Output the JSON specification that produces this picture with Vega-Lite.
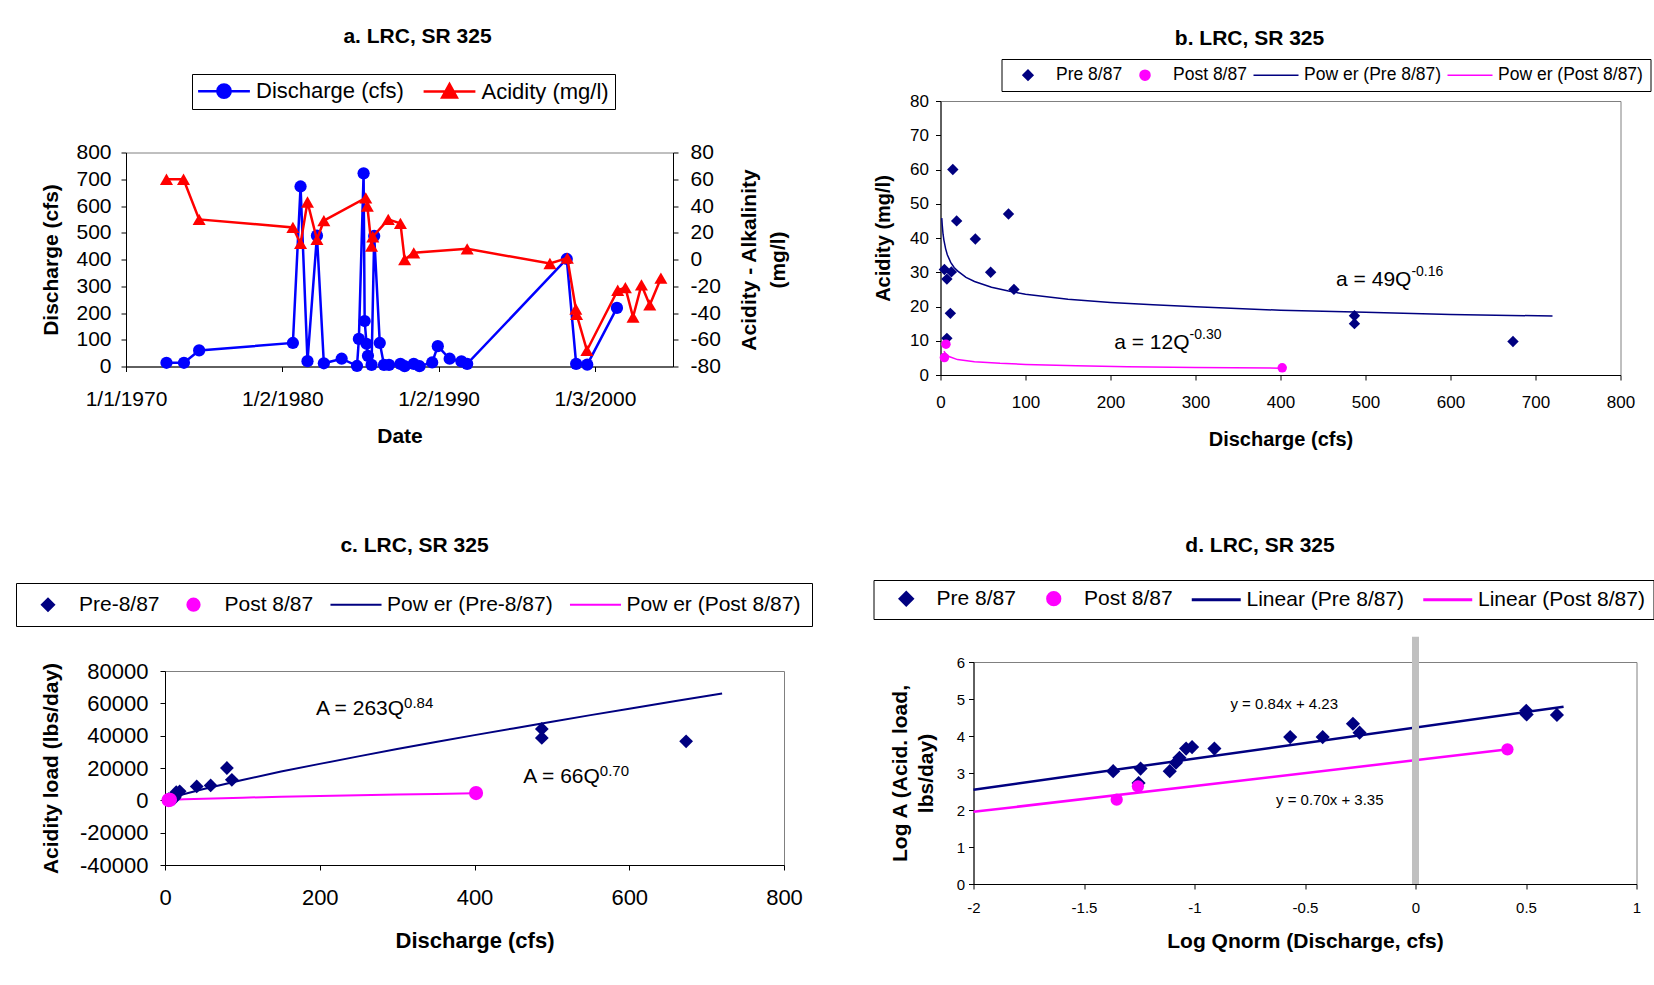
{
  "$schema": "https://vega.github.io/schema/vega-lite/v6.json",
  "background": "white",
  "padding": {"left": 15, "top": 25, "right": 5, "bottom": 5},
  "config": {
    "font": "Liberation Sans",
    "view": {"stroke": "#808080", "strokeWidth": 1},
    "axis": {"domainColor": "#000000", "domainWidth": 1, "tickColor": "#000000", "tickWidth": 1, "tickSize": 5, "labelColor": "#000000", "titleColor": "#000000", "titleFontWeight": "bold", "grid": false, "labelFlush": false, "labelOverlap": false, "labelPadding": 3},
    "title": {"color": "#000000", "fontWeight": "bold", "anchor": "middle", "frame": "group", "fontSize": 21},
    "legend": {"labelColor": "#000000", "strokeColor": "#000000", "fillColor": "#FFFFFF", "labelLimit": 400, "orient": "none", "direction": "horizontal", "symbolOpacity": 1, "title": null}
  },
  "datasets": {
    "panelA": [
      {"date": "1972-08-04", "series": "Discharge (cfs)", "value": 14},
      {"date": "1973-09-16", "series": "Discharge (cfs)", "value": 14},
      {"date": "1974-09-06", "series": "Discharge (cfs)", "value": 60},
      {"date": "1980-09-05", "series": "Discharge (cfs)", "value": 88},
      {"date": "1981-03-03", "series": "Discharge (cfs)", "value": 673},
      {"date": "1981-08-12", "series": "Discharge (cfs)", "value": 20},
      {"date": "1982-03-21", "series": "Discharge (cfs)", "value": 489},
      {"date": "1982-08-29", "series": "Discharge (cfs)", "value": 12},
      {"date": "1983-10-19", "series": "Discharge (cfs)", "value": 29},
      {"date": "1984-10-12", "series": "Discharge (cfs)", "value": 2},
      {"date": "1984-11-25", "series": "Discharge (cfs)", "value": 103},
      {"date": "1985-03-15", "series": "Discharge (cfs)", "value": 722},
      {"date": "1985-04-09", "series": "Discharge (cfs)", "value": 170},
      {"date": "1985-05-23", "series": "Discharge (cfs)", "value": 85},
      {"date": "1985-06-25", "series": "Discharge (cfs)", "value": 40},
      {"date": "1985-09-17", "series": "Discharge (cfs)", "value": 6},
      {"date": "1985-11-18", "series": "Discharge (cfs)", "value": 488},
      {"date": "1986-03-28", "series": "Discharge (cfs)", "value": 88},
      {"date": "1986-07-05", "series": "Discharge (cfs)", "value": 6},
      {"date": "1986-10-30", "series": "Discharge (cfs)", "value": 6},
      {"date": "1987-07-24", "series": "Discharge (cfs)", "value": 10},
      {"date": "1987-10-30", "series": "Discharge (cfs)", "value": 1},
      {"date": "1988-05-30", "series": "Discharge (cfs)", "value": 10},
      {"date": "1988-10-12", "series": "Discharge (cfs)", "value": 1},
      {"date": "1989-08-04", "series": "Discharge (cfs)", "value": 15},
      {"date": "1989-12-13", "series": "Discharge (cfs)", "value": 76},
      {"date": "1990-09-16", "series": "Discharge (cfs)", "value": 29},
      {"date": "1991-06-18", "series": "Discharge (cfs)", "value": 19},
      {"date": "1991-10-30", "series": "Discharge (cfs)", "value": 10},
      {"date": "1998-03-14", "series": "Discharge (cfs)", "value": 402},
      {"date": "1998-10-20", "series": "Discharge (cfs)", "value": 10},
      {"date": "1999-07-06", "series": "Discharge (cfs)", "value": 7},
      {"date": "2001-05-30", "series": "Discharge (cfs)", "value": 219},
      {"date": "1972-08-04", "series": "Acidity (mg/l)", "value": 60},
      {"date": "1973-09-06", "series": "Acidity (mg/l)", "value": 60},
      {"date": "1974-09-06", "series": "Acidity (mg/l)", "value": 30},
      {"date": "1980-09-05", "series": "Acidity (mg/l)", "value": 24},
      {"date": "1981-03-03", "series": "Acidity (mg/l)", "value": 12},
      {"date": "1981-08-12", "series": "Acidity (mg/l)", "value": 43},
      {"date": "1982-03-21", "series": "Acidity (mg/l)", "value": 15},
      {"date": "1982-08-29", "series": "Acidity (mg/l)", "value": 29},
      {"date": "1985-05-05", "series": "Acidity (mg/l)", "value": 46},
      {"date": "1985-06-10", "series": "Acidity (mg/l)", "value": 40},
      {"date": "1985-09-17", "series": "Acidity (mg/l)", "value": 10},
      {"date": "1985-10-15", "series": "Acidity (mg/l)", "value": 17},
      {"date": "1986-10-12", "series": "Acidity (mg/l)", "value": 30},
      {"date": "1987-07-24", "series": "Acidity (mg/l)", "value": 27},
      {"date": "1987-10-30", "series": "Acidity (mg/l)", "value": 0},
      {"date": "1988-05-30", "series": "Acidity (mg/l)", "value": 5},
      {"date": "1991-10-30", "series": "Acidity (mg/l)", "value": 8},
      {"date": "1997-02-14", "series": "Acidity (mg/l)", "value": -3},
      {"date": "1998-03-28", "series": "Acidity (mg/l)", "value": 1},
      {"date": "1998-10-12", "series": "Acidity (mg/l)", "value": -37},
      {"date": "1998-10-30", "series": "Acidity (mg/l)", "value": -41},
      {"date": "1999-06-28", "series": "Acidity (mg/l)", "value": -68},
      {"date": "2001-06-17", "series": "Acidity (mg/l)", "value": -23},
      {"date": "2001-12-13", "series": "Acidity (mg/l)", "value": -21},
      {"date": "2002-06-10", "series": "Acidity (mg/l)", "value": -43},
      {"date": "2002-12-24", "series": "Acidity (mg/l)", "value": -19},
      {"date": "2003-07-06", "series": "Acidity (mg/l)", "value": -34},
      {"date": "2004-03-22", "series": "Acidity (mg/l)", "value": -14}
    ],
    "bPts": [
      {"q": 4.6, "val": 30.8, "group": "Pre 8/87"},
      {"q": 7.5, "val": 28, "group": "Pre 8/87"},
      {"q": 12.8, "val": 30.1, "group": "Pre 8/87"},
      {"q": 14.5, "val": 60, "group": "Pre 8/87"},
      {"q": 11.6, "val": 18, "group": "Pre 8/87"},
      {"q": 7.5, "val": 10.7, "group": "Pre 8/87"},
      {"q": 19, "val": 45, "group": "Pre 8/87"},
      {"q": 41, "val": 39.7, "group": "Pre 8/87"},
      {"q": 59, "val": 30, "group": "Pre 8/87"},
      {"q": 80, "val": 47, "group": "Pre 8/87"},
      {"q": 86.4, "val": 25, "group": "Pre 8/87"},
      {"q": 487, "val": 17.3, "group": "Pre 8/87"},
      {"q": 487, "val": 15, "group": "Pre 8/87"},
      {"q": 673.5, "val": 9.8, "group": "Pre 8/87"},
      {"q": 6.4, "val": 9, "group": "Post 8/87"},
      {"q": 4.6, "val": 5.1, "group": "Post 8/87"},
      {"q": 402, "val": 2.1, "group": "Post 8/87"}
    ],
    "bFit": [
      {"q": 1.5, "val": 45.8, "group": "Pow er (Pre 8/87)"},
      {"q": 2, "val": 43.9, "group": "Pow er (Pre 8/87)"},
      {"q": 3, "val": 41.1, "group": "Pow er (Pre 8/87)"},
      {"q": 4, "val": 39.4, "group": "Pow er (Pre 8/87)"},
      {"q": 6, "val": 36.9, "group": "Pow er (Pre 8/87)"},
      {"q": 8, "val": 35.1, "group": "Pow er (Pre 8/87)"},
      {"q": 12, "val": 32.9, "group": "Pow er (Pre 8/87)"},
      {"q": 16, "val": 31.4, "group": "Pow er (Pre 8/87)"},
      {"q": 20, "val": 30.4, "group": "Pow er (Pre 8/87)"},
      {"q": 30, "val": 28.5, "group": "Pow er (Pre 8/87)"},
      {"q": 40, "val": 27.3, "group": "Pow er (Pre 8/87)"},
      {"q": 60, "val": 25.6, "group": "Pow er (Pre 8/87)"},
      {"q": 80, "val": 24.5, "group": "Pow er (Pre 8/87)"},
      {"q": 100, "val": 23.6, "group": "Pow er (Pre 8/87)"},
      {"q": 150, "val": 22.1, "group": "Pow er (Pre 8/87)"},
      {"q": 200, "val": 21.2, "group": "Pow er (Pre 8/87)"},
      {"q": 250, "val": 20.5, "group": "Pow er (Pre 8/87)"},
      {"q": 300, "val": 19.9, "group": "Pow er (Pre 8/87)"},
      {"q": 400, "val": 18.9, "group": "Pow er (Pre 8/87)"},
      {"q": 500, "val": 18.3, "group": "Pow er (Pre 8/87)"},
      {"q": 600, "val": 17.7, "group": "Pow er (Pre 8/87)"},
      {"q": 720, "val": 17.2, "group": "Pow er (Pre 8/87)"},
      {"q": 4, "val": 7.0, "group": "Pow er (Post 8/87)"},
      {"q": 6, "val": 6.2, "group": "Pow er (Post 8/87)"},
      {"q": 10, "val": 5.4, "group": "Pow er (Post 8/87)"},
      {"q": 20, "val": 4.5, "group": "Pow er (Post 8/87)"},
      {"q": 40, "val": 3.9, "group": "Pow er (Post 8/87)"},
      {"q": 70, "val": 3.4, "group": "Pow er (Post 8/87)"},
      {"q": 100, "val": 3.1, "group": "Pow er (Post 8/87)"},
      {"q": 160, "val": 2.7, "group": "Pow er (Post 8/87)"},
      {"q": 220, "val": 2.4, "group": "Pow er (Post 8/87)"},
      {"q": 300, "val": 2.2, "group": "Pow er (Post 8/87)"},
      {"q": 400, "val": 2.0, "group": "Pow er (Post 8/87)"}
    ],
    "bNotes": [
      {"q": 554, "val": 27.8, "base": "a = 49Q", "sup": "-0.16"},
      {"q": 293, "val": 9.3, "base": "a = 12Q", "sup": "-0.30"}
    ],
    "cPts": [
      {"q": 4.6, "val": 800, "group": "Pre-8/87"},
      {"q": 7.5, "val": 1100, "group": "Pre-8/87"},
      {"q": 7.5, "val": 450, "group": "Pre-8/87"},
      {"q": 11.6, "val": 1100, "group": "Pre-8/87"},
      {"q": 12.8, "val": 2100, "group": "Pre-8/87"},
      {"q": 14.5, "val": 5000, "group": "Pre-8/87"},
      {"q": 19, "val": 5600, "group": "Pre-8/87"},
      {"q": 41, "val": 8600, "group": "Pre-8/87"},
      {"q": 59, "val": 9200, "group": "Pre-8/87"},
      {"q": 80, "val": 20000, "group": "Pre-8/87"},
      {"q": 86.4, "val": 12700, "group": "Pre-8/87"},
      {"q": 487, "val": 44200, "group": "Pre-8/87"},
      {"q": 487, "val": 38600, "group": "Pre-8/87"},
      {"q": 673.5, "val": 36500, "group": "Pre-8/87"},
      {"q": 4.6, "val": 130, "group": "Post 8/87"},
      {"q": 6.4, "val": 310, "group": "Post 8/87"},
      {"q": 402, "val": 4480, "group": "Post 8/87"}
    ],
    "cFit": [
      {"q": 1, "val": 263, "group": "Pow er (Pre-8/87)"},
      {"q": 5, "val": 1020, "group": "Pow er (Pre-8/87)"},
      {"q": 10, "val": 1820, "group": "Pow er (Pre-8/87)"},
      {"q": 25, "val": 3900, "group": "Pow er (Pre-8/87)"},
      {"q": 50, "val": 7030, "group": "Pow er (Pre-8/87)"},
      {"q": 100, "val": 12600, "group": "Pow er (Pre-8/87)"},
      {"q": 150, "val": 17800, "group": "Pow er (Pre-8/87)"},
      {"q": 200, "val": 22540, "group": "Pow er (Pre-8/87)"},
      {"q": 250, "val": 27200, "group": "Pow er (Pre-8/87)"},
      {"q": 300, "val": 31700, "group": "Pow er (Pre-8/87)"},
      {"q": 350, "val": 36100, "group": "Pow er (Pre-8/87)"},
      {"q": 400, "val": 40340, "group": "Pow er (Pre-8/87)"},
      {"q": 450, "val": 44500, "group": "Pow er (Pre-8/87)"},
      {"q": 500, "val": 48630, "group": "Pow er (Pre-8/87)"},
      {"q": 550, "val": 52700, "group": "Pow er (Pre-8/87)"},
      {"q": 600, "val": 56700, "group": "Pow er (Pre-8/87)"},
      {"q": 660, "val": 61400, "group": "Pow er (Pre-8/87)"},
      {"q": 720, "val": 66040, "group": "Pow er (Pre-8/87)"},
      {"q": 4.6, "val": 190, "group": "Pow er (Post 8/87)"},
      {"q": 10, "val": 330, "group": "Pow er (Post 8/87)"},
      {"q": 25, "val": 630, "group": "Pow er (Post 8/87)"},
      {"q": 50, "val": 1030, "group": "Pow er (Post 8/87)"},
      {"q": 100, "val": 1660, "group": "Pow er (Post 8/87)"},
      {"q": 150, "val": 2200, "group": "Pow er (Post 8/87)"},
      {"q": 200, "val": 2690, "group": "Pow er (Post 8/87)"},
      {"q": 250, "val": 3150, "group": "Pow er (Post 8/87)"},
      {"q": 300, "val": 3580, "group": "Pow er (Post 8/87)"},
      {"q": 350, "val": 3990, "group": "Pow er (Post 8/87)"},
      {"q": 400, "val": 4380, "group": "Pow er (Post 8/87)"}
    ],
    "cNotes": [
      {"q": 309, "val": 56200, "base": "A = 263Q", "sup": "0.84"},
      {"q": 562, "val": 14400, "base": "A = 66Q", "sup": "0.70"}
    ],
    "dPts": [
      {"logq": -1.368, "loga": 3.05, "group": "Pre 8/87"},
      {"logq": -1.244, "loga": 3.12, "group": "Pre 8/87"},
      {"logq": -1.253, "loga": 2.73, "group": "Pre 8/87"},
      {"logq": -1.112, "loga": 3.05, "group": "Pre 8/87"},
      {"logq": -1.084, "loga": 3.28, "group": "Pre 8/87"},
      {"logq": -1.068, "loga": 3.41, "group": "Pre 8/87"},
      {"logq": -1.038, "loga": 3.66, "group": "Pre 8/87"},
      {"logq": -1.011, "loga": 3.70, "group": "Pre 8/87"},
      {"logq": -0.910, "loga": 3.66, "group": "Pre 8/87"},
      {"logq": -0.567, "loga": 3.97, "group": "Pre 8/87"},
      {"logq": -0.420, "loga": 3.97, "group": "Pre 8/87"},
      {"logq": -0.283, "loga": 4.33, "group": "Pre 8/87"},
      {"logq": -0.253, "loga": 4.09, "group": "Pre 8/87"},
      {"logq": 0.501, "loga": 4.68, "group": "Pre 8/87"},
      {"logq": 0.503, "loga": 4.58, "group": "Pre 8/87"},
      {"logq": 0.640, "loga": 4.57, "group": "Pre 8/87"},
      {"logq": -1.352, "loga": 2.28, "group": "Post 8/87"},
      {"logq": -1.256, "loga": 2.64, "group": "Post 8/87"},
      {"logq": 0.416, "loga": 3.64, "group": "Post 8/87"}
    ],
    "dLines": [
      {"logq": -2, "loga": 2.55, "group": "Linear (Pre 8/87)"},
      {"logq": 0.67, "loga": 4.79, "group": "Linear (Pre 8/87)"},
      {"logq": -2, "loga": 1.95, "group": "Linear (Post 8/87)"},
      {"logq": 0.42, "loga": 3.64, "group": "Linear (Post 8/87)"}
    ],
    "dBar": [
      {"logq": 0, "loga": 0, "loga2": 6.68}
    ],
    "dNotes": [
      {"logq": -0.594, "loga": 4.87, "label": "y = 0.84x + 4.23"},
      {"logq": -0.388, "loga": 2.26, "label": "y = 0.70x + 3.35"}
    ]
  },
  "columns": 2,
  "align": "none",
  "bounds": "full",
  "spacing": {"row": 84, "column": 59.5},
  "resolve": {
    "scale": {"color": "independent", "fill": "independent", "stroke": "independent", "shape": "independent"},
    "legend": {"color": "independent", "fill": "independent", "stroke": "independent", "shape": "independent"}
  },
  "concat": [
    {
      "vconcat": [
        {
          "width": 547, "height": 1,
          "view": {"stroke": null},
          "title": {"text": "a. LRC, SR 325", "offset": 27, "dx": 18},
          "data": {"values": []},
          "mark": {"type": "point", "filled": true, "opacity": 1},
          "encoding": {
            "fill": {"field": "series", "type": "nominal", "scale": {"domain": ["Discharge (cfs)", "Acidity (mg/l)"], "range": ["#0000FF", "#FF0000"]},
              "legend": {"orient": "none", "legendX": 66, "legendY": -27, "direction": "horizontal", "labelFontSize": 22, "padding": 6, "columnPadding": 14.5, "symbolOffset": 15, "labelOffset": 21, "symbolSize": 196, "symbolStrokeWidth": 2.5}},
            "stroke": {"field": "series", "type": "nominal", "scale": {"domain": ["Discharge (cfs)", "Acidity (mg/l)"], "range": ["#0000FF", "#FF0000"]},
              "legend": {"orient": "none", "legendX": 66, "legendY": -27, "direction": "horizontal", "labelFontSize": 22, "padding": 6, "columnPadding": 14.5, "symbolOffset": 15, "labelOffset": 21, "symbolSize": 196, "symbolStrokeWidth": 2.5}},
            "shape": {"field": "series", "type": "nominal", "scale": {"domain": ["Discharge (cfs)", "Acidity (mg/l)"], "range": ["M-3.7,0L3.7,0M0.95,0A0.95,0.95,0,1,1,-0.95,0A0.95,0.95,0,1,1,0.95,0Z", "M-3.7,0L3.7,0M0,-1.05L1.05,0.85L-1.05,0.85Z"]},
              "legend": {"orient": "none", "legendX": 66, "legendY": -27, "direction": "horizontal", "labelFontSize": 22, "padding": 6, "columnPadding": 14.5, "symbolOffset": 15, "labelOffset": 21, "symbolSize": 196, "symbolStrokeWidth": 2.5}}
          }
        },
        {
          "width": 547, "height": 214,
          "encoding": {
            "x": {"field": "date", "type": "temporal",
              "scale": {"type": "utc", "domain": [{"year": 1970, "month": 1, "date": 1, "utc": true}, {"year": 2004, "month": 12, "date": 30, "utc": true}]},
              "axis": {"title": "Date", "values": [{"year": 1970, "month": 1, "date": 1, "utc": true}, {"year": 1980, "month": 1, "date": 2, "utc": true}, {"year": 1990, "month": 1, "date": 2, "utc": true}, {"year": 2000, "month": 1, "date": 3, "utc": true}],
                "labelExpr": "utcFormat(datum.value, '%-m/%-d/%Y')", "labelFontSize": 21, "titleFontSize": 21, "labelPadding": 17, "titlePadding": 16}}
          },
          "layer": [
            {"data": {"name": "panelA"}, "transform": [{"filter": "datum.series === 'Discharge (cfs)'"}],
             "mark": {"type": "line", "strokeWidth": 2.5, "color": "#0000FF", "point": {"shape": "circle", "filled": true, "size": 150, "opacity": 1, "color": "#0000FF"}},
             "encoding": {"y": {"field": "value", "type": "quantitative", "scale": {"domain": [0, 800], "nice": false},
               "axis": {"title": "Discharge (cfs)", "values": [0, 100, 200, 300, 400, 500, 600, 700, 800], "labelFontSize": 21, "titleFontSize": 21, "labelPadding": 10, "titlePadding": 14}}}},
            {"data": {"name": "panelA"}, "transform": [{"filter": "datum.series === 'Acidity (mg/l)'"}],
             "mark": {"type": "line", "strokeWidth": 2.5, "color": "#FF0000", "point": {"shape": "triangle-up", "filled": true, "size": 170, "opacity": 1, "color": "#FF0000"}},
             "encoding": {"y": {"field": "value", "type": "quantitative", "scale": {"domain": [-80, 80], "nice": false},
               "axis": {"orient": "right", "title": ["Acidity - Alkalinity", "(mg/l)"], "titleAngle": 270, "titleBaseline": "top", "titleLineHeight": 29,
                 "values": [-80, -60, -40, -20, 0, 20, 40, 60, 80], "labelExpr": "'' + datum.value", "labelFontSize": 21, "titleFontSize": 21, "labelPadding": 12, "titlePadding": -11}}}}
          ],
          "resolve": {"scale": {"y": "independent"}}
        }
      ],
      "spacing": 30.5,
      "bounds": "full",
      "resolve": {
        "scale": {"fill": "independent", "stroke": "independent", "shape": "independent"},
        "legend": {"fill": "independent", "stroke": "independent", "shape": "independent"}
      }
    },
    {
      "width": 680, "height": 274,
      "title": {"text": "b. LRC, SR 325", "offset": 10, "dx": -31},
      "encoding": {
        "x": {"field": "q", "type": "quantitative", "scale": {"domain": [0, 800], "nice": false},
          "axis": {"title": "Discharge (cfs)", "values": [0, 100, 200, 300, 400, 500, 600, 700, 800], "labelFontSize": 17, "titleFontSize": 20, "labelPadding": 14, "titlePadding": 19}},
        "y": {"field": "val", "type": "quantitative", "scale": {"domain": [0, 80], "nice": false},
          "axis": {"title": "Acidity (mg/l)", "values": [0, 10, 20, 30, 40, 50, 60, 70, 80], "labelFontSize": 17, "titleFontSize": 20, "labelPadding": 7, "titlePadding": 16}}
      },
      "layer": [
        {"data": {"name": "bFit"}, "mark": {"type": "line", "strokeWidth": 1.5},
         "encoding": {"color": {"field": "group", "type": "nominal", "scale": {"domain": ["Pow er (Pre 8/87)", "Pow er (Post 8/87)", "Pre 8/87", "Post 8/87"], "range": ["#000080", "#FF00FF", "#000080", "#FF00FF"]}, "legend": null}}},
        {"data": {"name": "bPts"}, "transform": [{"filter": "datum.group === 'Pre 8/87'"}],
         "mark": {"type": "point", "shape": "diamond", "filled": true, "size": 130, "opacity": 1, "color": "#000080"}},
        {"data": {"name": "bPts"}, "transform": [{"filter": "datum.group === 'Post 8/87'"}],
         "mark": {"type": "point", "shape": "circle", "filled": true, "size": 90, "opacity": 1, "color": "#FF00FF"}},
        {"data": {"name": "bNotes"}, "mark": {"type": "text", "align": "right", "baseline": "middle", "fontSize": 21},
         "encoding": {"text": {"field": "base"}}},
        {"data": {"name": "bNotes"}, "mark": {"type": "text", "align": "left", "baseline": "middle", "fontSize": 14, "dy": -8},
         "encoding": {"text": {"field": "sup"}}},
        {"data": {"values": []},
         "mark": {"type": "point", "filled": true, "opacity": 1},
         "encoding": {
           "fill": {"field": "group", "type": "nominal", "scale": {"domain": ["Pre 8/87", "Post 8/87", "Pow er (Pre 8/87)", "Pow er (Post 8/87)"], "range": ["#000080", "#FF00FF", "#000080", "#FF00FF"]},
             "legend": {"orient": "none", "legendX": 61, "legendY": -42, "direction": "horizontal", "labelFontSize": 17.5, "padding": 7, "columnPadding": 3, "symbolOffset": 10.75, "labelOffset": 19.25, "symbolSize": 100, "symbolStrokeWidth": 1.5}},
           "stroke": {"field": "group", "type": "nominal", "scale": {"domain": ["Pre 8/87", "Post 8/87", "Pow er (Pre 8/87)", "Pow er (Post 8/87)"], "range": ["#000080", "#FF00FF", "#000080", "#FF00FF"]},
             "legend": {"orient": "none", "legendX": 61, "legendY": -42, "direction": "horizontal", "labelFontSize": 17.5, "padding": 7, "columnPadding": 3, "symbolOffset": 10.75, "labelOffset": 19.25, "symbolSize": 100, "symbolStrokeWidth": 1.5}},
           "shape": {"field": "group", "type": "nominal", "scale": {"domain": ["Pre 8/87", "Post 8/87", "Pow er (Pre 8/87)", "Pow er (Post 8/87)"], "range": ["diamond", "circle", "M-4.5,0L4.5,0", "M-4.5,0L4.5,0"]},
             "legend": {"orient": "none", "legendX": 61, "legendY": -42, "direction": "horizontal", "labelFontSize": 17.5, "padding": 7, "columnPadding": 3, "symbolOffset": 10.75, "labelOffset": 19.25, "symbolSize": 100, "symbolStrokeWidth": 1.5}}
         }}
      ]
    },
    {
      "hconcat": [
        {"width": 1, "height": 1, "view": {"stroke": null}, "data": {"values": []}, "mark": {"type": "point", "opacity": 0}},
        {
          "width": 619, "height": 194,
          "title": {"text": "c. LRC, SR 325", "offset": 27, "dx": -60},
          "encoding": {
            "x": {"field": "q", "type": "quantitative", "scale": {"domain": [0, 800], "nice": false},
              "axis": {"title": "Discharge (cfs)", "values": [0, 200, 400, 600, 800], "labelFontSize": 22, "titleFontSize": 22, "labelPadding": 17, "titlePadding": 22}},
            "y": {"field": "val", "type": "quantitative", "scale": {"domain": [-40000, 80000], "nice": false},
              "axis": {"title": "Acidity load (lbs/day)", "values": [-40000, -20000, 0, 20000, 40000, 60000, 80000], "labelExpr": "'' + datum.value", "labelFontSize": 22, "titleFontSize": 21, "labelPadding": 12, "titlePadding": 18}}
          },
          "layer": [
            {"data": {"name": "cFit"}, "mark": {"type": "line", "strokeWidth": 2},
             "encoding": {"color": {"field": "group", "type": "nominal", "scale": {"domain": ["Pow er (Pre-8/87)", "Pow er (Post 8/87)", "Pre-8/87", "Post 8/87"], "range": ["#000080", "#FF00FF", "#000080", "#FF00FF"]}, "legend": null}}},
            {"data": {"name": "cPts"}, "transform": [{"filter": "datum.group === 'Pre-8/87'"}],
             "mark": {"type": "point", "shape": "diamond", "filled": true, "size": 190, "opacity": 1, "color": "#000080"}},
            {"data": {"name": "cPts"}, "transform": [{"filter": "datum.group === 'Post 8/87'"}],
             "mark": {"type": "point", "shape": "circle", "filled": true, "size": 200, "opacity": 1, "color": "#FF00FF"}},
            {"data": {"name": "cNotes"}, "mark": {"type": "text", "align": "right", "baseline": "middle", "fontSize": 21},
             "encoding": {"text": {"field": "base"}}},
            {"data": {"name": "cNotes"}, "mark": {"type": "text", "align": "left", "baseline": "middle", "fontSize": 15, "dy": -6},
             "encoding": {"text": {"field": "sup"}}},
            {"data": {"values": []},
             "mark": {"type": "point", "filled": true, "opacity": 1},
             "encoding": {
               "fill": {"field": "group", "type": "nominal", "scale": {"domain": ["Pre-8/87", "Post 8/87", "Pow er (Pre-8/87)", "Pow er (Post 8/87)"], "range": ["#000080", "#FF00FF", "#000080", "#FF00FF"]},
                 "legend": {"orient": "none", "legendX": -149, "legendY": -88, "direction": "horizontal", "labelFontSize": 21, "padding": 11, "columnPadding": 12.5, "symbolOffset": 10.5, "labelOffset": 20.5, "symbolSize": 150, "symbolStrokeWidth": 2}},
               "stroke": {"field": "group", "type": "nominal", "scale": {"domain": ["Pre-8/87", "Post 8/87", "Pow er (Pre-8/87)", "Pow er (Post 8/87)"], "range": ["#000080", "#FF00FF", "#000080", "#FF00FF"]},
                 "legend": {"orient": "none", "legendX": -149, "legendY": -88, "direction": "horizontal", "labelFontSize": 21, "padding": 11, "columnPadding": 12.5, "symbolOffset": 10.5, "labelOffset": 20.5, "symbolSize": 150, "symbolStrokeWidth": 2}},
               "shape": {"field": "group", "type": "nominal", "scale": {"domain": ["Pre-8/87", "Post 8/87", "Pow er (Pre-8/87)", "Pow er (Post 8/87)"], "range": ["diamond", "circle", "M-4.17,0L4.17,0", "M-4.17,0L4.17,0"]},
                 "legend": {"orient": "none", "legendX": -149, "legendY": -88, "direction": "horizontal", "labelFontSize": 21, "padding": 11, "columnPadding": 12.5, "symbolOffset": 10.5, "labelOffset": 20.5, "symbolSize": 150, "symbolStrokeWidth": 2}}
             }}
          ]
        }
      ],
      "spacing": -112,
      "bounds": "full",
      "resolve": {
        "scale": {"color": "independent", "fill": "independent", "stroke": "independent", "shape": "independent"},
        "legend": {"color": "independent", "fill": "independent", "stroke": "independent", "shape": "independent"}
      }
    },
    {
      "width": 663, "height": 222,
      "title": {"text": "d. LRC, SR 325", "offset": 24, "dx": -45},
      "encoding": {
        "x": {"field": "logq", "type": "quantitative", "scale": {"domain": [-2, 1], "nice": false},
          "axis": {"title": "Log Qnorm (Discharge, cfs)", "values": [-2, -1.5, -1, -0.5, 0, 0.5, 1], "labelExpr": "'' + datum.value", "labelFontSize": 15, "titleFontSize": 21, "labelPadding": 11, "titlePadding": 15}},
        "y": {"field": "loga", "type": "quantitative", "scale": {"domain": [0, 6], "nice": false},
          "axis": {"title": ["Log A (Acid. load,", "lbs/day)"], "titleLineHeight": 26, "values": [0, 1, 2, 3, 4, 5, 6], "labelFontSize": 15, "titleFontSize": 21, "labelPadding": 4, "titlePadding": 20}}
      },
      "layer": [
        {"data": {"name": "dLines"}, "mark": {"type": "line", "strokeWidth": 2.5},
         "encoding": {"color": {"field": "group", "type": "nominal", "scale": {"domain": ["Linear (Pre 8/87)", "Linear (Post 8/87)", "Pre 8/87", "Post 8/87"], "range": ["#000080", "#FF00FF", "#000080", "#FF00FF"]}, "legend": null}}},
        {"data": {"name": "dPts"}, "transform": [{"filter": "datum.group === 'Pre 8/87'"}],
         "mark": {"type": "point", "shape": "diamond", "filled": true, "size": 200, "opacity": 1, "color": "#000080"}},
        {"data": {"name": "dPts"}, "transform": [{"filter": "datum.group === 'Post 8/87'"}],
         "mark": {"type": "point", "shape": "circle", "filled": true, "size": 150, "opacity": 1, "color": "#FF00FF"}},
        {"data": {"name": "dBar"}, "mark": {"type": "rule", "color": "#C0C0C0", "strokeWidth": 7},
         "encoding": {"y2": {"field": "loga2"}}},
        {"data": {"name": "dNotes"}, "mark": {"type": "text", "align": "center", "baseline": "middle", "fontSize": 15},
         "encoding": {"text": {"field": "label"}}},
        {"data": {"values": []},
         "mark": {"type": "point", "filled": true, "opacity": 1},
         "encoding": {
           "fill": {"field": "group", "type": "nominal", "scale": {"domain": ["Pre 8/87", "Post 8/87", "Linear (Pre 8/87)", "Linear (Post 8/87)"], "range": ["#000080", "#FF00FF", "#000080", "#FF00FF"]},
             "legend": {"orient": "none", "legendX": -100, "legendY": -82, "direction": "horizontal", "labelFontSize": 21, "padding": 8, "columnPadding": 12.5, "symbolOffset": 14.25, "labelOffset": 19.75, "symbolSize": 150, "symbolStrokeWidth": 3}},
           "stroke": {"field": "group", "type": "nominal", "scale": {"domain": ["Pre 8/87", "Post 8/87", "Linear (Pre 8/87)", "Linear (Post 8/87)"], "range": ["#000080", "#FF00FF", "#000080", "#FF00FF"]},
             "legend": {"orient": "none", "legendX": -100, "legendY": -82, "direction": "horizontal", "labelFontSize": 21, "padding": 8, "columnPadding": 12.5, "symbolOffset": 14.25, "labelOffset": 19.75, "symbolSize": 150, "symbolStrokeWidth": 3}},
           "shape": {"field": "group", "type": "nominal", "scale": {"domain": ["Pre 8/87", "Post 8/87", "Linear (Pre 8/87)", "Linear (Post 8/87)"], "range": ["diamond", "circle", "M-4,0L4,0", "M-4,0L4,0"]},
             "legend": {"orient": "none", "legendX": -100, "legendY": -82, "direction": "horizontal", "labelFontSize": 21, "padding": 8, "columnPadding": 12.5, "symbolOffset": 14.25, "labelOffset": 19.75, "symbolSize": 150, "symbolStrokeWidth": 3}}
         }}
      ]
    }
  ]
}
